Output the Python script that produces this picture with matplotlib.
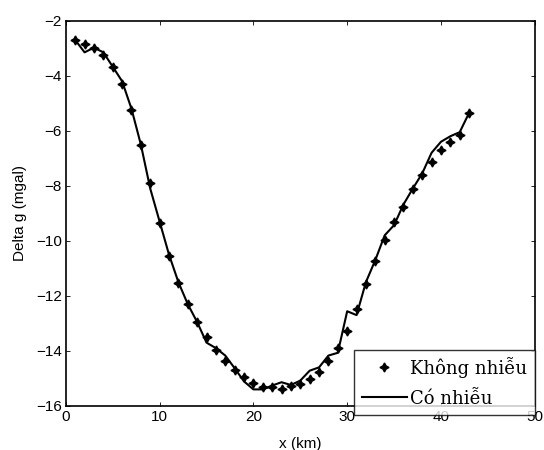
import matplotlib
matplotlib.use("Agg")
import matplotlib.pyplot as plt

x_km = list(range(1, 44))
khong_nhieu = [-2.70, -2.83, -2.98, -3.24, -3.67, -4.29, -5.24, -6.50, -7.89, -9.34,
               -10.57, -11.55, -12.31, -12.94, -13.48, -13.96, -14.38, -14.68, -14.96, -15.16,
               -15.30, -15.32, -15.38, -15.28, -15.20, -15.02, -14.75, -14.38, -13.90, -13.27,
               -12.48, -11.58, -10.73, -9.97, -9.30, -8.76, -8.13, -7.62, -7.13, -6.71,
               -6.42, -6.14, -5.36]
co_nhieu = [-2.70, -3.15, -2.98, -3.15, -3.67, -4.20, -5.20, -6.50, -8.10, -9.30,
            -10.50, -11.50, -12.30, -12.95, -13.70, -13.90, -14.17, -14.63, -15.11, -15.40,
            -15.40, -15.26, -15.14, -15.24, -15.08, -14.72, -14.60, -14.17, -14.07, -12.56,
            -12.70, -11.50, -10.70, -9.80, -9.43, -8.68, -8.10, -7.55, -6.80, -6.40,
            -6.20, -6.05, -5.35]

xticks = [0, 10, 20, 30, 40, 50]
yticks = [-16, -14, -12, -10, -8, -6, -4, -2]

fig = plt.figure(figsize=(5.44, 4.5), dpi=100)
ax = fig.add_axes([0.121, 0.098, 0.862, 0.856])

ax.plot(x_km, khong_nhieu, linestyle='none', marker=(4, 1, 0), markersize=6.5,
        color='black', label='Không nhiễu')
ax.plot(x_km, co_nhieu, color='black', linewidth=1.5, label='Có nhiễu')

ax.set_xlim(0, 50)
ax.set_ylim(-16, -2)
ax.set_xticks(xticks)
ax.set_yticks(yticks)
ax.tick_params(direction='in', top=True, right=True, length=3, width=0.6,
               labelsize=11, pad=3)
for lab in ax.get_xticklabels() + ax.get_yticklabels():
    lab.set_family('Liberation Sans')
for s in ax.spines.values():
    s.set_linewidth(1.2)

ax.set_xlabel('x (km)', family='Liberation Sans', fontsize=11, labelpad=9)
ax.set_ylabel('Delta g (mgal)', family='Liberation Sans', fontsize=11, labelpad=6)

leg = ax.legend(loc='lower right', bbox_to_anchor=(1.0, -0.023), numpoints=1,
                prop={'family': 'DejaVu Serif', 'size': 13}, frameon=True,
                fancybox=False, edgecolor='black', borderpad=0.4, handlelength=2.5,
                handletextpad=0.2, labelspacing=0.65, borderaxespad=0)
leg.get_frame().set_linewidth(1.0)

fig.savefig('out.png', dpi=100)
